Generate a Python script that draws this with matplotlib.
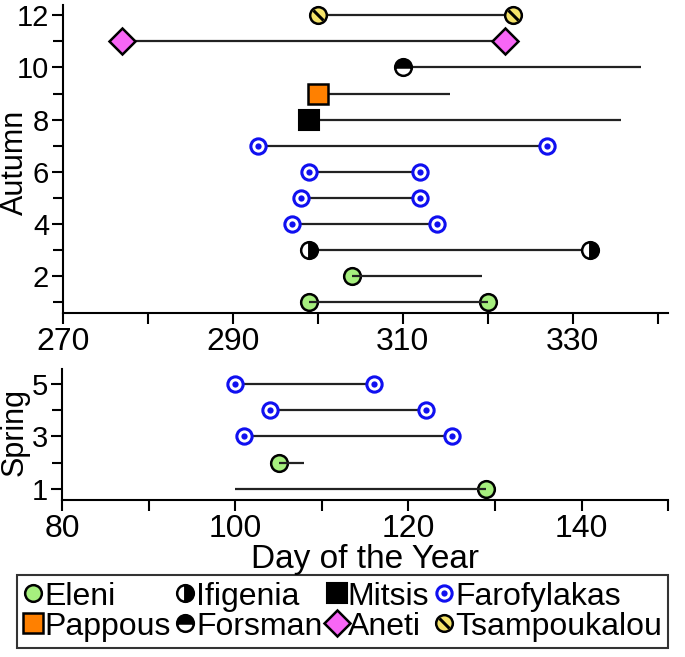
import matplotlib.pyplot as plt
from matplotlib.lines import Line2D
from matplotlib.markers import MarkerStyle
from matplotlib.transforms import Affine2D

plt.rcParams['font.family'] = ['Liberation Sans', 'DejaVu Sans']

# Autumn observations (row number, first day, last day, site)
autumn_rows = [1, 2, 3, 4, 5, 6, 7, 8, 9, 10, 11, 12]
autumn_start = [299, 304, 299, 297, 298, 299, 293, 299, 300, 310, 277, 300]
autumn_end = [320, 319.3, 332, 314, 312, 312, 327, 335.7, 315.6, 338, 322, 323]
autumn_site = ['Eleni', 'Eleni', 'Ifigenia', 'Farofylakas', 'Farofylakas', 'Farofylakas',
               'Farofylakas', 'Mitsis', 'Pappous', 'Forsman', 'Aneti', 'Tsampoukalou']
autumn_start_marked = [True] * 12
autumn_end_marked = [True, False, True, True, True, True, True, False, False, False, True, True]

# Spring observations
spring_rows = [1, 2, 3, 4, 5]
spring_start = [100, 105, 101, 104, 100]
spring_end = [129, 108, 125, 122, 116]
spring_site = ['Eleni', 'Eleni', 'Farofylakas', 'Farofylakas', 'Farofylakas']
spring_start_marked = [False, True, True, True, True]
spring_end_marked = [True, False, True, True, True]

legend_order = ['Eleni', 'Pappous', 'Ifigenia', 'Forsman', 'Mitsis', 'Aneti',
                'Farofylakas', 'Tsampoukalou']

slash = MarkerStyle('_', transform=Affine2D().rotate_deg(-45))

# marker styles per site: list of layers drawn on top of each other
styles = {
    'Eleni': [dict(marker='o', ms=12, mfc='#a6ef7e', mec='black', mew=1.8)],
    'Ifigenia': [dict(marker='o', ms=12, fillstyle='left', mfc='white',
                      markerfacecoloralt='black', mec='black', mew=1.8)],
    'Mitsis': [dict(marker='s', ms=14, mfc='black', mec='black', mew=1.5)],
    'Farofylakas': [dict(marker='o', ms=11, mfc='white', mec='#1010f0', mew=2.2),
                    dict(marker='o', ms=4.5, mfc='#1010f0', mec='#1010f0', mew=0)],
    'Pappous': [dict(marker='s', ms=14, mfc='#ff8000', mec='black', mew=1.8)],
    'Forsman': [dict(marker='o', ms=12, fillstyle='top', mfc='black',
                     markerfacecoloralt='white', mec='black', mew=1.8)],
    'Aneti': [dict(marker='D', ms=13, mfc='#f766f5', mec='black', mew=1.8)],
    'Tsampoukalou': [dict(marker='o', ms=12, mfc='#f5e36a', mec='black', mew=1.8),
                     dict(marker=slash, ms=10, mec='black', mew=2.2)],
}


def draw_panel(ax, rows, start, end, site, start_marked, end_marked):
    for r, s, e, name, sm, em in zip(rows, start, end, site, start_marked, end_marked):
        line_z = 4 if name == 'Eleni' else 2
        ax.plot([s, e], [r, r], color='#222222', lw=1.6, zorder=line_z, solid_capstyle='butt')
        xs = ([s] if sm else []) + ([e] if em else [])
        for layer in styles[name]:
            ax.plot(xs, [r] * len(xs), ls='none', zorder=3, clip_on=False, **layer)


def style_axis(ax):
    for side in ['top', 'right']:
        ax.spines[side].set_visible(False)
    for side in ['left', 'bottom']:
        ax.spines[side].set_linewidth(1.5)
    ax.tick_params(axis='both', which='both', direction='out', width=1.5)
    ax.tick_params(axis='x', labelsize=23)
    ax.tick_params(axis='y', labelsize=21)
    ax.tick_params(axis='both', which='major', length=8, pad=2)
    ax.tick_params(axis='y', which='minor', length=7)


fig = plt.figure(figsize=(6.85, 6.57), dpi=100)

ax1 = fig.add_axes([0.092, 0.523, 0.883, 0.469])
draw_panel(ax1, autumn_rows, autumn_start, autumn_end, autumn_site,
           autumn_start_marked, autumn_end_marked)
ax1.set_xlim(270, 341.2)
ax1.set_ylim(0.58, 12.38)
ax1.set_xticks(range(270, 341, 10))
ax1.set_xticklabels([str(v) if v % 20 == 10 else '' for v in range(270, 341, 10)])
ax1.set_yticks([2, 4, 6, 8, 10, 12])
ax1.set_yticks([1, 3, 5, 7, 9, 11], minor=True)
ax1.set_ylabel('Autumn', fontsize=22)
ax1.yaxis.set_label_coords(-0.054, 0.49)
style_axis(ax1)

ax2 = fig.add_axes([0.0905, 0.239, 0.885, 0.199])
draw_panel(ax2, spring_rows, spring_start, spring_end, spring_site,
           spring_start_marked, spring_end_marked)
ax2.set_xlim(80, 150)
ax2.set_ylim(0.58, 5.55)
ax2.set_xticks(range(80, 151, 10))
ax2.set_xticklabels([str(v) if v % 20 == 0 else '' for v in range(80, 151, 10)])
ax2.set_yticks([1, 3, 5])
ax2.set_yticks([2, 4], minor=True)
ax2.set_ylabel('Spring', fontsize=22)
ax2.yaxis.set_label_coords(-0.053, 0.52)
ax2.set_xlabel('Day of the Year', fontsize=24, labelpad=0)
style_axis(ax2)

handles = []
for name in legend_order:
    handles.append(tuple(Line2D([], [], ls='none', **layer) for layer in styles[name]))

leg = fig.legend(handles, legend_order, loc='center', bbox_to_anchor=(0.5, 0.069),
                 ncol=4, fontsize=23, frameon=True, fancybox=False, edgecolor='black',
                 handlelength=0.6, handletextpad=0.05, columnspacing=0.15,
                 borderpad=0.2, labelspacing=0.0, borderaxespad=0)
leg.get_frame().set_linewidth(1.5)

fig.savefig('out.png', dpi=100)
